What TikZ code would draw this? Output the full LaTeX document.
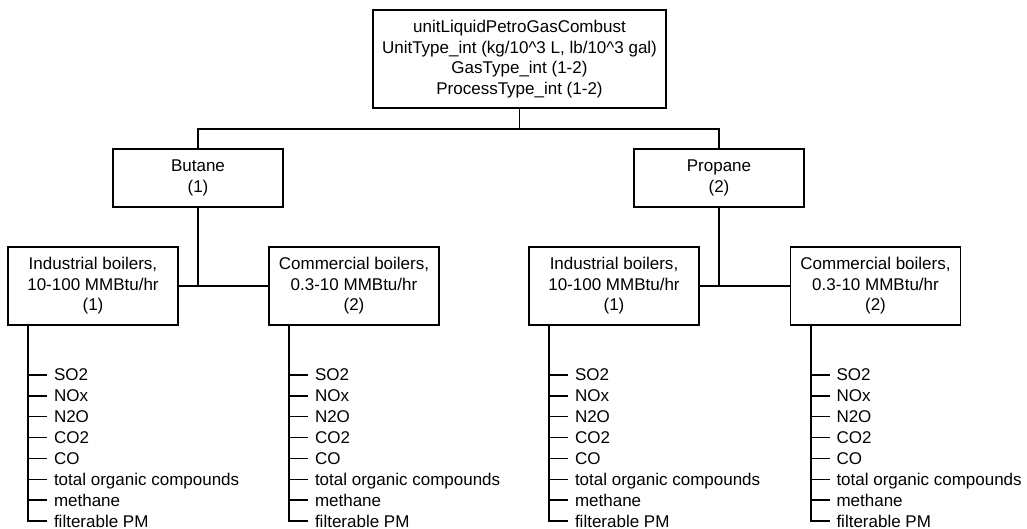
\documentclass[tikz,border=0pt]{standalone}
\usepackage{fontspec}
\setmainfont{Liberation Sans}
\usetikzlibrary{calc}

\begin{document}
\begin{tikzpicture}[
      x=1pt,y=-1pt,
      line width=1.6pt,
      every node/.style={font=\fontsize{17}{20.5}\selectfont},
      unitbox/.style={draw=black,line width=1.6pt,align=center,
        minimum width=170pt,minimum height=78pt,inner sep=0pt},
      gasbox/.style={unitbox,minimum height=58pt},
      rootbox/.style={unitbox,minimum width=293pt,minimum height=98pt},
      pollutant/.style={anchor=west,inner xsep=6pt,inner ysep=0pt,
        text height=12.2pt,text depth=0pt}
    ]
    \useasboundingbox (0,0) rectangle (1027,529);

    \node[rootbox] (root) at (519.5,59)
      {unitLiquidPetroGasCombust\\
       UnitType\_int (kg/10\textasciicircum 3 L, lb/10\textasciicircum 3 gal)\\
       GasType\_int (1-2)\\ProcessType\_int (1-2)};

    \node[gasbox] (butane) at (198,178) {Butane\\(1)};
    \node[gasbox] (propane) at (719,178) {Propane\\(2)};

    \node[unitbox] (indbut) at (93,286) {Industrial boilers,\\10-100 MMBtu/hr\\(1)};
    \node[unitbox] (combut) at (354,286) {Commercial boilers,\\0.3-10 MMBtu/hr\\(2)};
    \node[unitbox] (indpro) at (614,286) {Industrial boilers,\\10-100 MMBtu/hr\\(1)};
    \node[unitbox] (compro) at (875.5,286) {Commercial boilers,\\0.3-10 MMBtu/hr\\(2)};

    \draw (root.south) -- ++(0,20) coordinate (bus) -| (butane.north);
    \draw (bus) -| (propane.north);
    \draw (butane.south) -- (butane.south |- indbut.east);
    \draw (indbut.east) -- (combut.west);
    \draw (propane.south) -- (propane.south |- indpro.east);
    \draw (indpro.east) -- (compro.west);

    % emission factors under each boiler
    \foreach \boiler in {indbut,combut,indpro,compro}{
      \coordinate (\boiler-stem) at ($(\boiler.south west)+(21,0)$);
      \foreach \gas [count=\i] in {SO2,NOx,N2O,CO2,CO,total organic compounds,methane,filterable PM}
        \node[pollutant] (\boiler-\i) at ($(\boiler-stem)+(19,{49+20.9*(\i-1)})$) {\gas};
      \foreach \i in {1,...,7}
        \draw (\boiler-\i.west) -- (\boiler-\i.west -| \boiler-stem);
      \draw (\boiler-stem) |- (\boiler-8.west);
    }
  \end{tikzpicture}
\end{document}
